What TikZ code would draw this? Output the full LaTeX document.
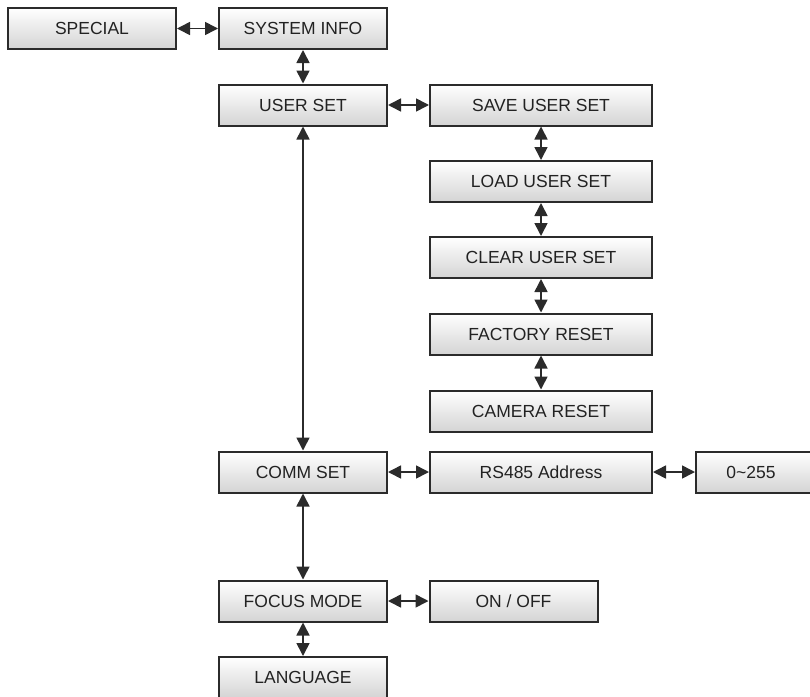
\documentclass[tikz,border=0pt]{standalone}
\usepackage{fontspec}
\setmainfont{Liberation Sans}
\usetikzlibrary{arrows.meta}
\definecolor{edge}{HTML}{2B2B2B}
\definecolor{ink}{HTML}{222222}
\definecolor{boxbot}{HTML}{D4D4D4}
\tikzset{
  menubox/.style={draw=edge, line width=2pt, top color=white, bottom color=boxbot,
    minimum height=41pt, inner sep=0pt, text=ink, font=\fontsize{17.5pt}{20pt}\selectfont},
  narrow/.style={menubox, minimum width=168pt},
  wide/.style={menubox, minimum width=222pt},
  link/.style={draw=edge, line width=1.6pt, {Triangle[length=13pt,width=13pt]}-{Triangle[length=13pt,width=13pt]}},
}
\begin{document}
\begin{tikzpicture}[x=1pt,y=-1pt]
\useasboundingbox (0,0) rectangle (810,696);
\node[narrow] (special) at (92,28.5) {SPECIAL};
\node[narrow] (sysinfo) at (303,28.5) {SYSTEM INFO};
\node[narrow] (userset) at (303,105) {USER SET};
\node[wide] (save) at (541,105) {SAVE USER SET};
\node[wide] (load) at (541,181.5) {LOAD USER SET};
\node[wide] (clear) at (541,257.5) {CLEAR USER SET};
\node[wide] (factory) at (541,334) {FACTORY RESET};
\node[wide] (camera) at (541,411) {CAMERA RESET};
\node[narrow] (comm) at (303,472) {COMM SET};
\node[wide] (rs485) at (541,472) {RS485 Address};
\node[narrow, minimum width=222pt, anchor=west] (range) at (695,472) {\hspace*{-112pt}0\char`~255};
\node[narrow] (focus) at (303,601) {FOCUS MODE};
\node[narrow] (onoff) at (513.5,601) {ON / OFF};
\node[narrow] (lang) at (303,677.5) {LANGUAGE};
\draw[link] (special) -- (sysinfo);
\draw[link] (sysinfo) -- (userset);
\draw[link] (userset) -- (save);
\draw[link] (save) -- (load);
\draw[link] (load) -- (clear);
\draw[link] (clear) -- (factory);
\draw[link] (factory) -- (camera);
\draw[link] (userset) -- (comm);
\draw[link] (comm) -- (rs485);
\draw[link] (rs485) -- (range.west);
\draw[link] (comm) -- (focus);
\draw[link] (focus) -- (onoff);
\draw[link] (focus) -- (lang);
\end{tikzpicture}
\end{document}
